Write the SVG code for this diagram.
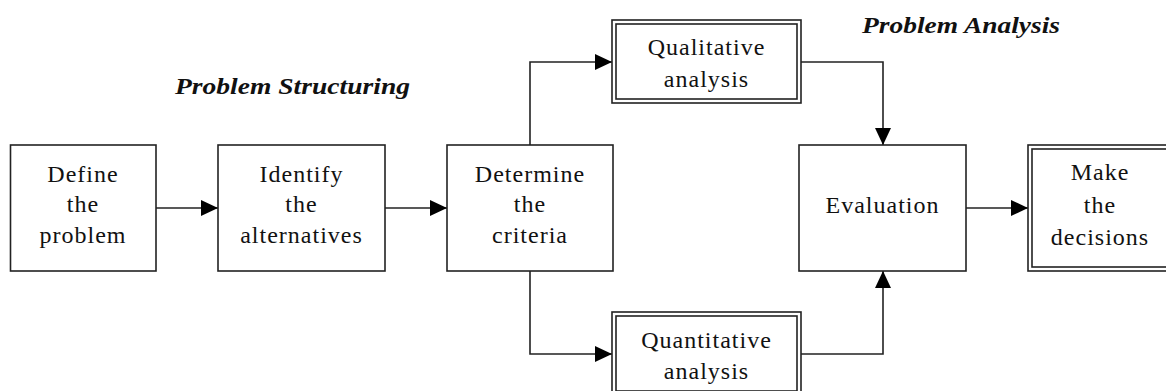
<svg xmlns="http://www.w3.org/2000/svg" width="1166" height="391" viewBox="0 0 1166 391">
<style>
.box{fill:#fff;stroke:#222;stroke-width:1.6}
.in{fill:none;stroke:#222;stroke-width:1.6}
.t{font-family:"Liberation Serif","Times New Roman",serif;font-size:24px;letter-spacing:1px;fill:#111;text-anchor:middle}
.h{font-family:"Liberation Serif","Times New Roman",serif;font-size:24px;font-weight:bold;font-style:italic;fill:#111}
.c{fill:none;stroke:#222;stroke-width:1.6}
</style>
<defs>
<marker id="ah" markerUnits="userSpaceOnUse" markerWidth="18" markerHeight="16" refX="17" refY="8" orient="auto">
<path d="M0,0 L17,8 L0,16 Z" fill="#000"/>
</marker>
</defs>
<rect width="1166" height="391" fill="#fff"/>
<text class="h" x="175" y="94" textLength="235" lengthAdjust="spacingAndGlyphs">Problem Structuring</text>
<text class="h" x="862" y="33" textLength="198" lengthAdjust="spacingAndGlyphs">Problem Analysis</text>
<g id="connectors">
<path class="c" d="M156,208 H218" marker-end="url(#ah)"/>
<path class="c" d="M385,208 H447" marker-end="url(#ah)"/>
<path class="c" d="M530,145 V62 H612" marker-end="url(#ah)"/>
<path class="c" d="M530,271 V354 H612" marker-end="url(#ah)"/>
<path class="c" d="M801,62 H883 V145" marker-end="url(#ah)"/>
<path class="c" d="M801,354 H883 V271" marker-end="url(#ah)"/>
<path class="c" d="M966,208 H1028" marker-end="url(#ah)"/>
</g>
<g id="define">
<rect class="box" x="10.5" y="145" width="145.5" height="126"/>
<text class="t" x="83" y="182">Define</text>
<text class="t" x="83" y="212">the</text>
<text class="t" x="83" y="243">problem</text>
</g>
<g id="identify">
<rect class="box" x="218" y="145" width="167" height="126"/>
<text class="t" x="301.5" y="182">Identify</text>
<text class="t" x="301.5" y="212">the</text>
<text class="t" x="301.5" y="243">alternatives</text>
</g>
<g id="determine">
<rect class="box" x="447" y="145" width="166" height="126"/>
<text class="t" x="530" y="182">Determine</text>
<text class="t" x="530" y="212">the</text>
<text class="t" x="530" y="243">criteria</text>
</g>
<g id="qualitative">
<rect class="box" x="612" y="20" width="189" height="83"/>
<rect class="in" x="616" y="24" width="181" height="75"/>
<text class="t" x="706.5" y="55">Qualitative</text>
<text class="t" x="706.5" y="87">analysis</text>
</g>
<g id="quantitative">
<rect class="box" x="612" y="312" width="189" height="83"/>
<rect class="in" x="616" y="316" width="181" height="75"/>
<text class="t" x="706.5" y="348">Quantitative</text>
<text class="t" x="706.5" y="379">analysis</text>
</g>
<g id="evaluation">
<rect class="box" x="799" y="145" width="167" height="126"/>
<text class="t" x="882.5" y="213">Evaluation</text>
</g>
<g id="make">
<rect class="box" x="1028" y="145" width="144" height="126"/>
<rect class="in" x="1032" y="149" width="136" height="118"/>
<text class="t" x="1100" y="180">Make</text>
<text class="t" x="1100" y="213">the</text>
<text class="t" x="1100" y="245">decisions</text>
</g>
</svg>
